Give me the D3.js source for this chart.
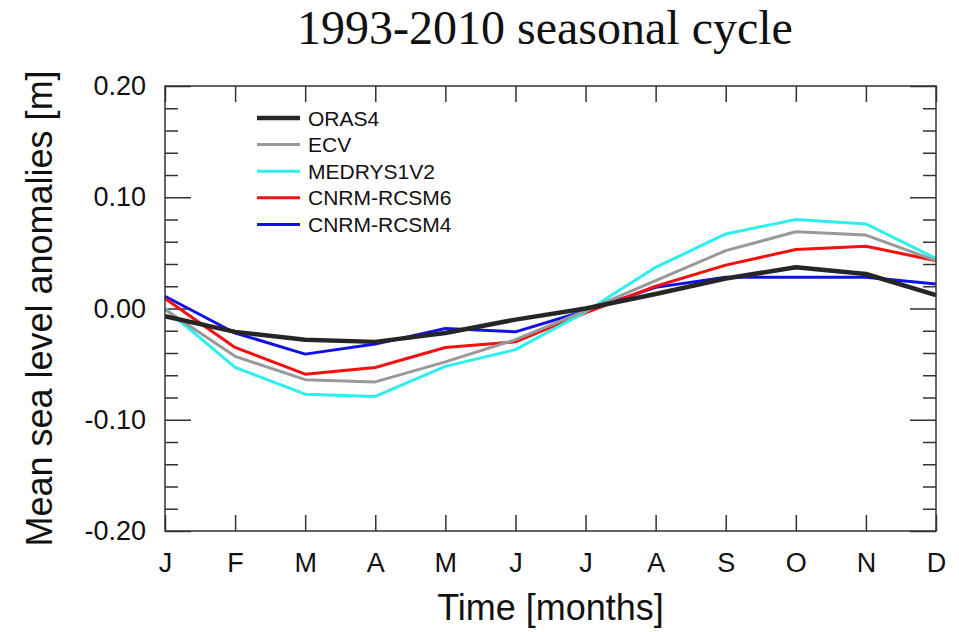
<!DOCTYPE html>
<html>
<head>
<meta charset="utf-8">
<script src="https://cdn.jsdelivr.net/npm/d3@7"></script>
<style>
  body { margin: 0; background: #fff; }
  svg { display: block; }
  .axis text { font-family: "Liberation Sans", Arial, sans-serif; fill: #111; }
  .axis line { stroke: #333; stroke-width: 1.5; }
</style>
</head>
<body>
<script>
// months and series (sea level anomaly, m)
var months = ["J", "F", "M", "A", "M", "J", "J", "A", "S", "O", "N", "D"];
var oras4  = [-0.007, -0.021, -0.028, -0.030, -0.022, -0.010, 0.000, 0.013, 0.027, 0.037, 0.031, 0.012];
var ecv    = [-0.001, -0.043, -0.064, -0.066, -0.048, -0.028, -0.002, 0.025, 0.052, 0.069, 0.066, 0.043];
var medrys = [0.000, -0.053, -0.077, -0.079, -0.052, -0.037, -0.003, 0.037, 0.067, 0.080, 0.076, 0.045];
var rcsm6  = [0.009, -0.035, -0.059, -0.053, -0.035, -0.030, -0.004, 0.020, 0.039, 0.053, 0.056, 0.043];
var rcsm4  = [0.011, -0.022, -0.041, -0.032, -0.018, -0.021, -0.002, 0.019, 0.028, 0.028, 0.028, 0.022];
var seriesNames = ["ORAS4", "ECV", "MEDRYS1V2", "CNRM-RCSM6", "CNRM-RCSM4"];
var yMajor = [-0.2, -0.1, 0, 0.1, 0.2];

var series = [
  {name: seriesNames[0], values: oras4,  color: "#262626", width: 4.5},
  {name: seriesNames[1], values: ecv,    color: "#999999", width: 3},
  {name: seriesNames[2], values: medrys, color: "#2eeeee", width: 3},
  {name: seriesNames[3], values: rcsm6,  color: "#f21010", width: 3},
  {name: seriesNames[4], values: rcsm4,  color: "#1010e8", width: 3}
];

var W = 959, H = 632;
var margin = {top: 86, right: 23, bottom: 101, left: 165},
    width = W - margin.left - margin.right,
    height = H - margin.top - margin.bottom;

var svg = d3.select("body").append("svg")
    .attr("width", W)
    .attr("height", H);

var g = svg.append("g")
    .attr("transform", "translate(" + margin.left + "," + margin.top + ")");

var x = d3.scaleLinear().domain([0, 11]).range([0, width]);
var y = d3.scaleLinear().domain([-0.2, 0.2]).range([height, 0]);

var yMinor = d3.range(-0.2, 0.2001, 0.02).filter(function(v) {
  return Math.abs(Math.round(v * 10) - v * 10) > 1e-6;
});

// plain hyphen for negatives, like the original
var fmt = function(v) { return d3.format(".2f")(v).replace("\u2212", "-"); };

// minor y ticks left/right
g.append("g").attr("class", "axis")
  .call(d3.axisLeft(y).tickValues(yMinor).tickSizeInner(-13).tickSizeOuter(0).tickFormat(""))
  .select(".domain").remove();
g.append("g").attr("class", "axis")
  .attr("transform", "translate(" + width + ",0)")
  .call(d3.axisRight(y).tickValues(yMinor).tickSizeInner(-13).tickSizeOuter(0).tickFormat(""))
  .select(".domain").remove();

// major y ticks
var yAx = g.append("g").attr("class", "axis")
  .call(d3.axisLeft(y).tickValues(yMajor).tickSizeInner(-26).tickSizeOuter(0).tickPadding(19)
    .tickFormat(fmt));
yAx.select(".domain").remove();
yAx.selectAll("text").style("font-size", "27px");
g.append("g").attr("class", "axis")
  .attr("transform", "translate(" + width + ",0)")
  .call(d3.axisRight(y).tickValues(yMajor).tickSizeInner(-26).tickSizeOuter(0).tickFormat(""))
  .select(".domain").remove();

// x ticks bottom/top
var xAx = g.append("g").attr("class", "axis")
  .attr("transform", "translate(0," + height + ")")
  .call(d3.axisBottom(x).tickValues(d3.range(12)).tickSizeInner(-16).tickSizeOuter(0).tickPadding(22)
    .tickFormat(function(i) { return months[i]; }));
xAx.select(".domain").remove();
xAx.selectAll("text").style("font-size", "27px");
g.append("g").attr("class", "axis")
  .call(d3.axisTop(x).tickValues(d3.range(12)).tickSizeInner(-16).tickSizeOuter(0).tickFormat(""))
  .select(".domain").remove();

// lines
var line = d3.line()
  .x(function(d, i) { return x(i); })
  .y(function(d) { return y(d); });

var drawOrder = [4, 3, 2, 1, 0];
drawOrder.forEach(function(k) {
  var s = series[k];
  g.append("path")
    .datum(s.values)
    .attr("fill", "none")
    .attr("stroke", s.color)
    .attr("stroke-width", s.width)
    .attr("stroke-linejoin", "round")
    .attr("d", line);
});

// frame
g.append("rect")
  .attr("width", width)
  .attr("height", height)
  .attr("fill", "none")
  .attr("stroke", "#333")
  .attr("stroke-width", 1.5);

// legend
var legend = g.append("g").attr("transform", "translate(92,32)");
series.forEach(function(s, i) {
  var row = legend.append("g").attr("transform", "translate(0," + (i * 26.6) + ")");
  row.append("line")
    .attr("x1", 0).attr("x2", 43)
    .attr("stroke", s.color)
    .attr("stroke-width", s.width);
  row.append("text")
    .attr("x", 51).attr("y", 7.5)
    .style("font-family", "'Liberation Sans', Arial, sans-serif")
    .style("font-size", "21px")
    .attr("fill", "#111")
    .text(s.name);
});

// titles
svg.append("text")
  .attr("x", 545).attr("y", 44)
  .attr("text-anchor", "middle")
  .style("font-family", "'Liberation Serif', 'Times New Roman', serif")
  .style("font-size", "48px")
  .attr("fill", "#111")
  .text("1993-2010 seasonal cycle");

svg.append("text")
  .attr("x", margin.left + width / 2).attr("y", 620)
  .attr("text-anchor", "middle")
  .style("font-family", "'Liberation Sans', Arial, sans-serif")
  .style("font-size", "36px")
  .attr("fill", "#111")
  .text("Time [months]");

svg.append("text")
  .attr("transform", "translate(52," + (margin.top + height / 2) + ") rotate(-90)")
  .attr("text-anchor", "middle")
  .style("font-family", "'Liberation Sans', Arial, sans-serif")
  .style("font-size", "36px")
  .attr("fill", "#111")
  .text("Mean sea level anomalies [m]");
</script>
</body>
</html>
